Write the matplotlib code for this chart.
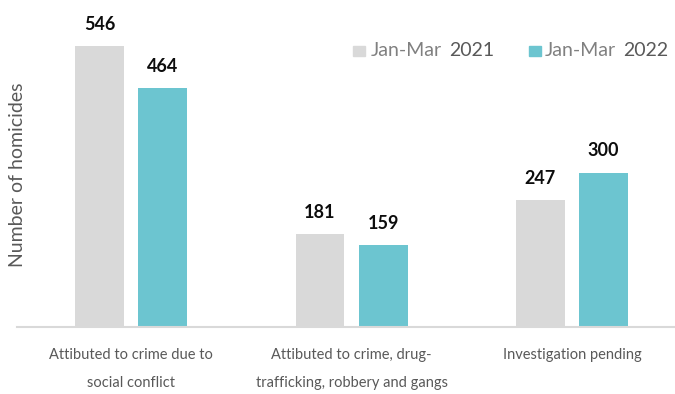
import matplotlib
matplotlib.use("Agg")
import matplotlib.pyplot as plt
from matplotlib.patches import Rectangle
import numpy as np

categories = ["Attibuted to crime due to\nsocial conflict",
              "Attibuted to crime, drug-\ntrafficking, robbery and gangs",
              "Investigation pending"]
period_names = ["Jan-Mar", "Jan-Mar"]
years = ["2021", "2022"]
values_2021 = [546, 181, 247]
values_2022 = [464, 159, 300]
colors = ["#d9d9d9", "#6cc5d0"]

plt.rcParams["font.family"] = ["Lato", "DejaVu Sans"]

W, H = 675, 394
fig = plt.figure(figsize=(W / 100, H / 100), dpi=100)

# axes spans from the baseline (y=327px from top) to the top edge
ax_left, ax_right = 17, 675
base_y = 327
ax = fig.add_axes([ax_left / W, (H - base_y) / H, (ax_right - ax_left) / W, base_y / H])

x = np.arange(len(categories))
bw = 0.222
off = 0.143
ax.bar(x - off, values_2021, width=bw, color=colors[0], zorder=2)
ax.bar(x + off, values_2022, width=bw, color=colors[1], zorder=2)

ax.set_xlim(-0.517, 2.467)
ax.set_ylim(0, base_y / 0.5147)

for xs, vals in ((x - off, values_2021), (x + off, values_2022)):
    for xi, v in zip(xs, vals):
        ax.annotate(str(v), (xi, v), xytext=(0, 9.5), textcoords="offset points",
                    ha="center", va="bottom", fontsize=13, fontweight="bold",
                    color="#0d0d0d")

for s in ["top", "right", "left"]:
    ax.spines[s].set_visible(False)
ax.spines["bottom"].set_color("#d9d9d9")
ax.spines["bottom"].set_linewidth(1.5)
ax.set_yticks([])
ax.set_xticks(x)
ax.set_xticklabels(categories, fontsize=10.5, color="#595959", linespacing=2.3, va="top")
ax.tick_params(axis="x", length=0, pad=15)

fig.text(18 / W, 1 - 175 / H, "Number of homicides", rotation=90, ha="center", va="center",
         fontsize=14, color="#595959")

# legend
legend_items = [(353, 371, 449), (529, 545, 623)]
for (sq_x, t1_x, t2_x), c, pname, yr in zip(legend_items, colors, period_names, years):
    fig.patches.append(Rectangle((sq_x / W, 1 - 56 / H), 12 / W, 10 / H,
                                 transform=fig.transFigure, color=c, figure=fig))
    fig.text(t1_x / W, 1 - 51 / H, pname, ha="left", va="center", fontsize=14, color="#808080")
    fig.text(t2_x / W, 1 - 51 / H, yr, ha="left", va="center", fontsize=14, color="#595959")

fig.savefig("out.png", dpi=100)
